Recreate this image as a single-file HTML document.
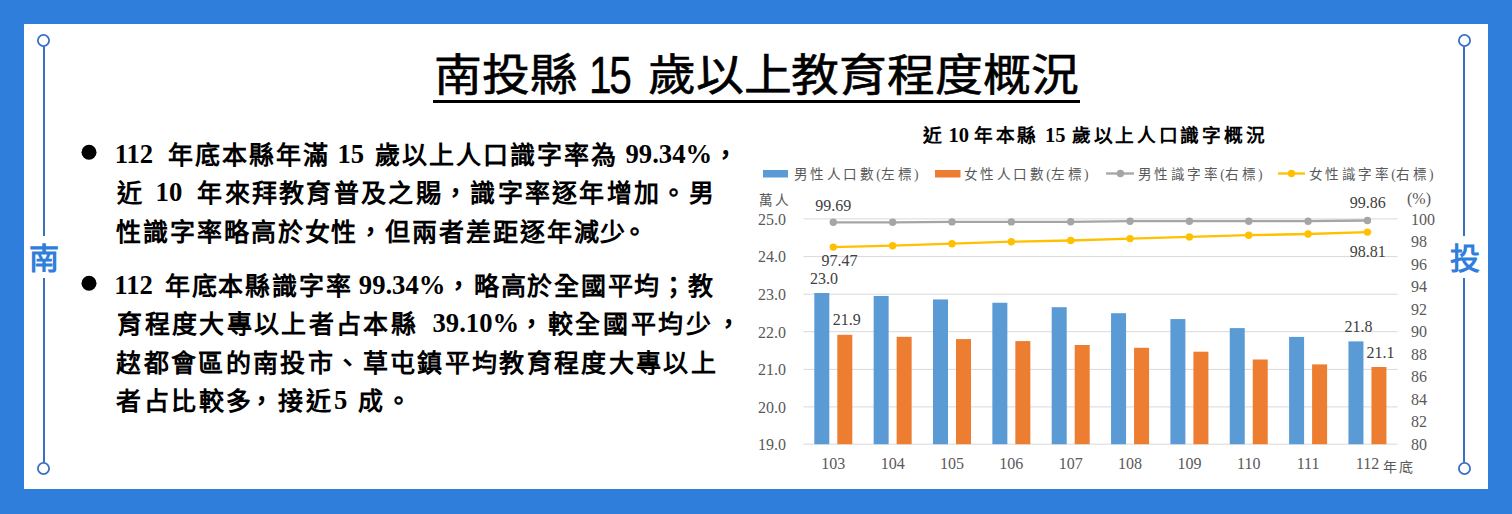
<!DOCTYPE html>
<html lang="zh-TW"><head><meta charset="utf-8">
<style>
html,body{margin:0;padding:0;}
body{width:1512px;height:514px;position:relative;overflow:hidden;background:#2F7EDB;font-family:"Liberation Serif",serif;}
#panel{position:absolute;left:24px;top:24px;width:1464px;height:465px;background:#fff;}
.a{position:absolute;white-space:pre;}
.t{font-family:"Liberation Sans",sans-serif;font-size:48px;color:#000;line-height:60px;-webkit-text-stroke:0.6px #000;}
.b{font-size:26.67px;font-weight:bold;color:#000;line-height:30px;}
.side{font-family:"Liberation Sans",sans-serif;font-size:30px;font-weight:bold;color:#2F7EDB;line-height:34px;}
svg text{font-family:"Liberation Serif",serif;fill:#595959;}
.ax{font-size:16px;}
.dl{font-size:16px;fill:#404040;}
.lg{font-size:13.6px;color:#595959;line-height:20px;letter-spacing:2.45px;}
.ct{font-size:18.7px;font-weight:bold;color:#000;line-height:24px;}
</style></head><body>
<div id="panel"></div>
<svg width="1512" height="514" style="position:absolute;left:0;top:0">
<circle cx="43.5" cy="40.5" r="5.6" fill="none" stroke="#3A70C2" stroke-width="1.8"/>
<line x1="44" y1="46.5" x2="44" y2="236" stroke="#3A70C2" stroke-width="2"/>
<line x1="44" y1="278" x2="44" y2="462.5" stroke="#3A70C2" stroke-width="2"/>
<circle cx="43.5" cy="468.5" r="5.6" fill="none" stroke="#3A70C2" stroke-width="1.8"/>
<circle cx="1464.5" cy="40.5" r="5.6" fill="none" stroke="#3A70C2" stroke-width="1.8"/>
<line x1="1464" y1="46.5" x2="1464" y2="236" stroke="#3A70C2" stroke-width="2"/>
<line x1="1464" y1="278" x2="1464" y2="462.5" stroke="#3A70C2" stroke-width="2"/>
<circle cx="1464.5" cy="468.5" r="5.6" fill="none" stroke="#3A70C2" stroke-width="1.8"/>
<rect x="433" y="100" width="647" height="3" fill="#000"/>
<circle cx="89" cy="152.2" r="7.5" fill="#000"/>
<circle cx="89" cy="283.2" r="7.5" fill="#000"/>
<line x1="803.5" y1="444.2" x2="1397.5" y2="444.2" stroke="#D9D9D9" stroke-width="1"/>
<line x1="803.5" y1="406.9" x2="1397.5" y2="406.9" stroke="#D9D9D9" stroke-width="1"/>
<line x1="803.5" y1="369.4" x2="1397.5" y2="369.4" stroke="#D9D9D9" stroke-width="1"/>
<line x1="803.5" y1="331.7" x2="1397.5" y2="331.7" stroke="#D9D9D9" stroke-width="1"/>
<line x1="803.5" y1="294.2" x2="1397.5" y2="294.2" stroke="#D9D9D9" stroke-width="1"/>
<line x1="803.5" y1="256.6" x2="1397.5" y2="256.6" stroke="#D9D9D9" stroke-width="1"/>
<line x1="803.5" y1="218.9" x2="1397.5" y2="218.9" stroke="#D9D9D9" stroke-width="1"/>
<rect x="814.30" y="293" width="15" height="151.20" fill="#5B9BD5"/>
<rect x="837.30" y="334.8" width="15" height="109.40" fill="#ED7D31"/>
<rect x="873.65" y="295.95" width="15" height="148.25" fill="#5B9BD5"/>
<rect x="896.65" y="336.8" width="15" height="107.40" fill="#ED7D31"/>
<rect x="933.00" y="299.45" width="15" height="144.75" fill="#5B9BD5"/>
<rect x="956.00" y="339.1" width="15" height="105.10" fill="#ED7D31"/>
<rect x="992.35" y="302.76" width="15" height="141.44" fill="#5B9BD5"/>
<rect x="1015.35" y="341.1" width="15" height="103.10" fill="#ED7D31"/>
<rect x="1051.70" y="307.2" width="15" height="137.00" fill="#5B9BD5"/>
<rect x="1074.70" y="345" width="15" height="99.20" fill="#ED7D31"/>
<rect x="1111.05" y="313.2" width="15" height="131.00" fill="#5B9BD5"/>
<rect x="1134.05" y="347.8" width="15" height="96.40" fill="#ED7D31"/>
<rect x="1170.40" y="319.07" width="15" height="125.13" fill="#5B9BD5"/>
<rect x="1193.40" y="351.7" width="15" height="92.50" fill="#ED7D31"/>
<rect x="1229.75" y="328.1" width="15" height="116.10" fill="#5B9BD5"/>
<rect x="1252.75" y="359.5" width="15" height="84.70" fill="#ED7D31"/>
<rect x="1289.10" y="336.9" width="15" height="107.30" fill="#5B9BD5"/>
<rect x="1312.10" y="364.4" width="15" height="79.80" fill="#ED7D31"/>
<rect x="1348.45" y="341.4" width="15" height="102.80" fill="#5B9BD5"/>
<rect x="1371.45" y="367" width="15" height="77.20" fill="#ED7D31"/>
<polyline points="833.30,222.3 892.65,222.3 952.00,221.9 1011.35,221.9 1070.70,221.8 1130.05,221.2 1189.40,221.2 1248.75,221.2 1308.10,221.2 1367.45,220.5" fill="none" stroke="#A5A5A5" stroke-width="2.3" stroke-linejoin="round"/>
<circle cx="833.30" cy="222.3" r="3.7" fill="#A5A5A5"/>
<circle cx="892.65" cy="222.3" r="3.7" fill="#A5A5A5"/>
<circle cx="952.00" cy="221.9" r="3.7" fill="#A5A5A5"/>
<circle cx="1011.35" cy="221.9" r="3.7" fill="#A5A5A5"/>
<circle cx="1070.70" cy="221.8" r="3.7" fill="#A5A5A5"/>
<circle cx="1130.05" cy="221.2" r="3.7" fill="#A5A5A5"/>
<circle cx="1189.40" cy="221.2" r="3.7" fill="#A5A5A5"/>
<circle cx="1248.75" cy="221.2" r="3.7" fill="#A5A5A5"/>
<circle cx="1308.10" cy="221.2" r="3.7" fill="#A5A5A5"/>
<circle cx="1367.45" cy="220.5" r="3.7" fill="#A5A5A5"/>
<polyline points="833.30,247.1 892.65,245.7 952.00,243.7 1011.35,241.7 1070.70,240.5 1130.05,238.6 1189.40,236.9 1248.75,235.2 1308.10,234.0 1367.45,232.1" fill="none" stroke="#FFC000" stroke-width="2.3" stroke-linejoin="round"/>
<circle cx="833.30" cy="247.1" r="3.7" fill="#FFC000"/>
<circle cx="892.65" cy="245.7" r="3.7" fill="#FFC000"/>
<circle cx="952.00" cy="243.7" r="3.7" fill="#FFC000"/>
<circle cx="1011.35" cy="241.7" r="3.7" fill="#FFC000"/>
<circle cx="1070.70" cy="240.5" r="3.7" fill="#FFC000"/>
<circle cx="1130.05" cy="238.6" r="3.7" fill="#FFC000"/>
<circle cx="1189.40" cy="236.9" r="3.7" fill="#FFC000"/>
<circle cx="1248.75" cy="235.2" r="3.7" fill="#FFC000"/>
<circle cx="1308.10" cy="234.0" r="3.7" fill="#FFC000"/>
<circle cx="1367.45" cy="232.1" r="3.7" fill="#FFC000"/>
<text x="786" y="450.0" text-anchor="end" class="ax">19.0</text>
<text x="786" y="412.7" text-anchor="end" class="ax">20.0</text>
<text x="786" y="375.2" text-anchor="end" class="ax">21.0</text>
<text x="786" y="337.5" text-anchor="end" class="ax">22.0</text>
<text x="786" y="300.0" text-anchor="end" class="ax">23.0</text>
<text x="786" y="262.4" text-anchor="end" class="ax">24.0</text>
<text x="786" y="224.7" text-anchor="end" class="ax">25.0</text>
<text x="1411" y="449.5" class="ax">80</text>
<text x="1411" y="427.0" class="ax">82</text>
<text x="1411" y="404.5" class="ax">84</text>
<text x="1411" y="382.0" class="ax">86</text>
<text x="1411" y="359.5" class="ax">88</text>
<text x="1411" y="337.0" class="ax">90</text>
<text x="1411" y="314.5" class="ax">92</text>
<text x="1411" y="292.0" class="ax">94</text>
<text x="1411" y="269.5" class="ax">96</text>
<text x="1411" y="247.0" class="ax">98</text>
<text x="1411" y="224.5" class="ax">100</text>
<text x="833.30" y="469" text-anchor="middle" class="ax">103</text>
<text x="892.65" y="469" text-anchor="middle" class="ax">104</text>
<text x="952.00" y="469" text-anchor="middle" class="ax">105</text>
<text x="1011.35" y="469" text-anchor="middle" class="ax">106</text>
<text x="1070.70" y="469" text-anchor="middle" class="ax">107</text>
<text x="1130.05" y="469" text-anchor="middle" class="ax">108</text>
<text x="1189.40" y="469" text-anchor="middle" class="ax">109</text>
<text x="1248.75" y="469" text-anchor="middle" class="ax">110</text>
<text x="1308.10" y="469" text-anchor="middle" class="ax">111</text>
<text x="1367.45" y="469" text-anchor="middle" class="ax">112</text>
<text x="833.3" y="210.5" text-anchor="middle" class="dl">99.69</text>
<text x="1367.8" y="208" text-anchor="middle" class="dl">99.86</text>
<text x="839.4" y="265.5" text-anchor="middle" class="dl">97.47</text>
<text x="1367.8" y="257" text-anchor="middle" class="dl">98.81</text>
<text x="823.9" y="283.6" text-anchor="middle" class="dl">23.0</text>
<text x="846.7" y="324.9" text-anchor="middle" class="dl">21.9</text>
<text x="1358.6" y="331.8" text-anchor="middle" class="dl">21.8</text>
<text x="1380.4" y="357.8" text-anchor="middle" class="dl">21.1</text>
<rect x="763" y="170" width="25" height="7.5" fill="#5B9BD5"/>
<rect x="935" y="170" width="25.5" height="7.5" fill="#ED7D31"/>
<line x1="1106" y1="173.5" x2="1134" y2="173.5" stroke="#A5A5A5" stroke-width="2.3"/><circle cx="1120.4" cy="173.5" r="3.7" fill="#A5A5A5"/>
<line x1="1278" y1="173.5" x2="1305" y2="173.5" stroke="#FFC000" stroke-width="2.3"/><circle cx="1291.5" cy="173.5" r="3.7" fill="#FFC000"/>
</svg>
<div class="a side" style="left:29px;top:241.5px">南</div>
<div class="a side" style="left:1450px;top:241.5px">投</div>
<div class="a t" style="left:433.5px;top:46px;font-size:44px;transform:scaleX(1.087);transform-origin:0 0">南投縣</div>
<div class="a t" style="left:589px;top:44.5px;font-size:52px;letter-spacing:-3px;transform:scaleX(0.78);transform-origin:0 0;-webkit-text-stroke:0.4px #000">15</div>
<div class="a t" style="left:648px;top:46px;font-size:44px;transform:scaleX(1.087);transform-origin:0 0">歲以上教育程度概況</div>
<div class="a b" style="left:114.7px;top:139.0px">112</div>
<div class="a b" style="left:167.8px;top:141.0px;font-size:25px;letter-spacing:2.00px">年底本縣年滿</div>
<div class="a b" style="left:337.4px;top:139.0px">15</div>
<div class="a b" style="left:375.3px;top:141.0px;font-size:25px;letter-spacing:2.00px">歲以上人口識字率為</div>
<div class="a b" style="left:625.5px;top:139.0px">99.34%</div>
<div class="a b" style="left:712.8px;top:141.0px;font-size:25px;letter-spacing:1.67px">，</div>
<div class="a b" style="left:116.8px;top:178.5px;font-size:25px;letter-spacing:1.67px">近</div>
<div class="a b" style="left:155.6px;top:176.5px">10</div>
<div class="a b" style="left:197.3px;top:178.5px;font-size:25px;letter-spacing:2.30px">年來拜教育普及之賜，識字率逐年增加。男</div>
<div class="a b" style="left:116.3px;top:217.7px;font-size:25px;letter-spacing:1.90px">性識字率略高於女性，但兩者差距逐年減少</div>
<div class="a b" style="left:621.8px;top:217.7px;font-size:25px;letter-spacing:1.67px">。</div>
<div class="a b" style="left:114.3px;top:270.0px">112</div>
<div class="a b" style="left:164.8px;top:272.0px;font-size:25px;letter-spacing:1.84px">年底本縣識字率</div>
<div class="a b" style="left:358.8px;top:270.0px">99.34%</div>
<div class="a b" style="left:445.8px;top:272.0px;font-size:25px;letter-spacing:1.67px">，</div>
<div class="a b" style="left:473.8px;top:272.0px;font-size:25px;letter-spacing:1.77px">略高於全國平均；教</div>
<div class="a b" style="left:117.3px;top:309.7px;font-size:25px;letter-spacing:2.35px">育程度大專以上者占本縣</div>
<div class="a b" style="left:432.5px;top:307.7px">39.10%</div>
<div class="a b" style="left:519.3px;top:309.7px;font-size:25px;letter-spacing:1.67px">，</div>
<div class="a b" style="left:547.8px;top:309.7px;font-size:25px;letter-spacing:2.67px">較全國平均少</div>
<div class="a b" style="left:715.5px;top:309.7px;font-size:25px;letter-spacing:1.67px">，</div>
<div class="a b" style="left:116.3px;top:349.2px;font-size:25px;letter-spacing:2.36px">趑都會區的南投市、草屯鎮平均教育程度大專以上</div>
<div class="a b" style="left:116.3px;top:387.0px;font-size:25px;letter-spacing:2.52px">者占比較多</div>
<div class="a b" style="left:249.1px;top:387.0px;font-size:25px;letter-spacing:1.67px">，</div>
<div class="a b" style="left:278.3px;top:387.0px;font-size:25px;letter-spacing:2.52px">接近</div>
<div class="a b" style="left:333.9px;top:385.0px">5</div>
<div class="a b" style="left:357.8px;top:387.0px;font-size:25px;letter-spacing:1.67px">成</div>
<div class="a b" style="left:385.8px;top:387.0px;font-size:25px;letter-spacing:1.67px">。</div>
<div class="a ct" style="left:923px;top:124px">近</div>
<div class="a ct" style="left:948.5px;top:122.5px;font-size:20.5px">10</div>
<div class="a ct" style="left:974px;top:124px;letter-spacing:2.7px">年本縣</div>
<div class="a ct" style="left:1045px;top:122.5px;font-size:20.5px">15</div>
<div class="a ct" style="left:1072px;top:124px;letter-spacing:2.7px">歲以上人口識字概況</div>
<div class="a lg" style="left:794px;top:165px">男性人口數<span style="letter-spacing:0.3px">(</span>左標<span style="letter-spacing:0">)</span></div>
<div class="a lg" style="left:964px;top:165px">女性人口數<span style="letter-spacing:0.3px">(</span>左標<span style="letter-spacing:0">)</span></div>
<div class="a lg" style="left:1138px;top:165px">男性識字率<span style="letter-spacing:0.3px">(</span>右標<span style="letter-spacing:0">)</span></div>
<div class="a lg" style="left:1309px;top:165px">女性識字率<span style="letter-spacing:0.3px">(</span>右標<span style="letter-spacing:0">)</span></div>
<div class="a lg" style="left:758.5px;top:190.5px">萬人</div>
<div class="a lg" style="left:1407px;top:188.5px;letter-spacing:0;font-size:16px">(%)</div>
<div class="a lg" style="left:1383px;top:458px;font-size:14px">年底</div>
</body></html>
